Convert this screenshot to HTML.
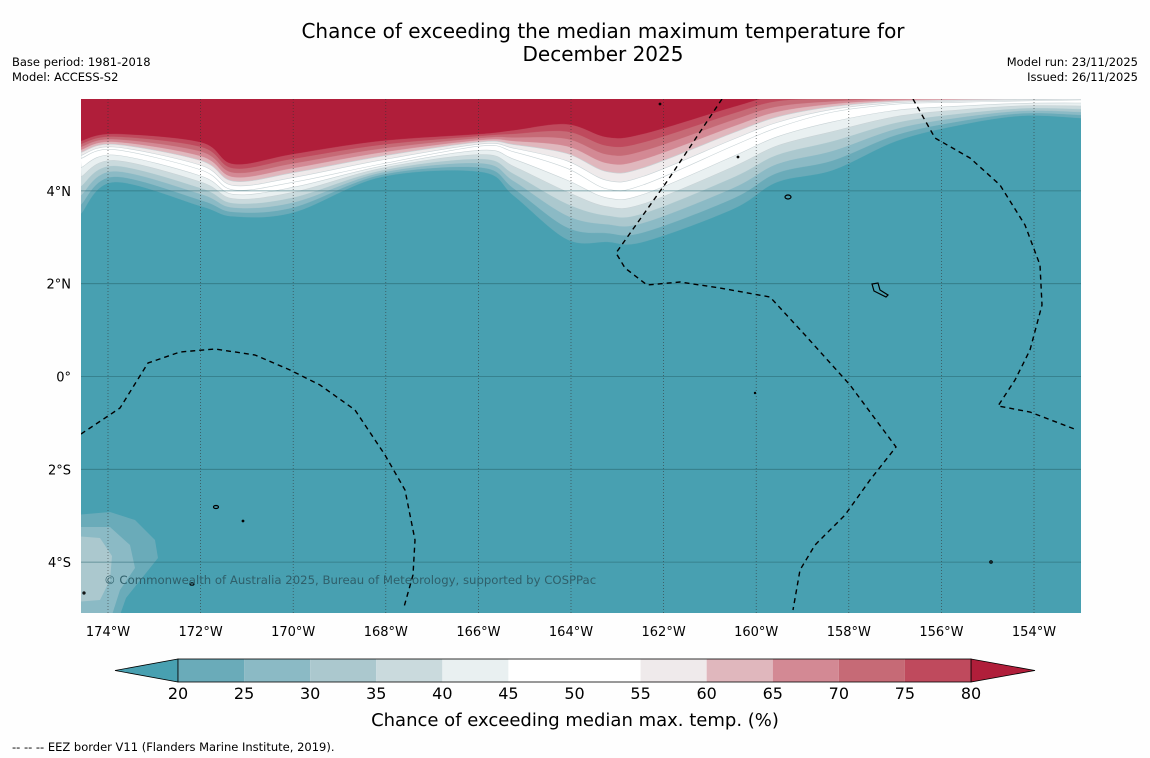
<!DOCTYPE html>
<html><head><meta charset="utf-8"><style>
body{margin:0;width:1150px;height:758px;background:#fefefe;font-family:"DejaVu Sans","Liberation Sans",sans-serif;overflow:hidden}
svg{position:absolute;left:0;top:0}
</style></head><body>
<svg id="chart" width="1150" height="758" viewBox="0 0 1150 758">
<text x="603" y="38" font-size="20" text-anchor="middle">Chance of exceeding the median maximum temperature for</text>
<text x="603" y="61" font-size="20" text-anchor="middle">December 2025</text>
<text x="12" y="66" font-size="11.5">Base period: 1981-2018</text>
<text x="12" y="81" font-size="11.5">Model: ACCESS-S2</text>
<text x="1138" y="66" font-size="11.5" text-anchor="end">Model run: 23/11/2025</text>
<text x="1138" y="81" font-size="11.5" text-anchor="end">Issued: 26/11/2025</text>
<defs><clipPath id="mapclip"><rect x="81" y="99" width="1000" height="514"/></clipPath></defs>
<g id="map" clip-path="url(#mapclip)">
<rect x="81" y="99" width="1000" height="514" fill="#48a0b1"/>
<g id="bands"></g>
<g id="blob"></g>
<g id="grid"></g>
<g id="eez" fill="none" stroke="#000" stroke-width="1.4" stroke-dasharray="5,4">
<path d="M81,434 L120,408 L148,363 L180,352 L215,349 L255,355 L290,370 L320,385 L355,410 L385,455 L405,490 L415,540 L413,575 L404,607"/>
<path d="M722,99 L668,180 L616,253 L625,268 L647,285 L680,282 L720,288 L770,297 L805,335 L850,385 L896,447 L870,480 L845,515 L815,545 L800,570 L793,610"/>
<path d="M913,99 L935,138 L970,158 L1000,185 L1025,225 L1040,265 L1042,305 L1030,350 L1015,380 L998,406 L1030,412 L1077,430"/>
</g>
<g id="islands" fill="none" stroke="#000" stroke-width="1.2">
<ellipse cx="788" cy="197" rx="3" ry="2"/>
<path d="M872,284 L878,283 L880,290 L888,295 L886,297 L874,291 Z"/>
<ellipse cx="216" cy="507" rx="2.5" ry="1.5"/>
<circle cx="243" cy="521" r="0.8"/>
<ellipse cx="192" cy="584" rx="2" ry="1.2"/>
<circle cx="84" cy="593" r="1"/>
<circle cx="991" cy="562" r="1.2"/>
<circle cx="660" cy="104" r="0.8"/>
<circle cx="738" cy="157" r="0.8"/>
<circle cx="755" cy="393" r="0.6"/>
</g>
<text x="104" y="584" font-size="11.7" fill="#2f5f6a">© Commonwealth of Australia 2025, Bureau of Meteorology, supported by COSPPac</text>
</g>
<g id="axes"></g>
<g id="colorbar"></g>
<text x="575" y="726" font-size="18" text-anchor="middle">Chance of exceeding median max. temp. (%)</text>
<text x="12" y="751" font-size="11.5">--  --  -- EEZ border V11 (Flanders Marine Institute, 2019).</text>
</svg>
<script>
const lons=[-174.58,-173.87,-171.99,-171.28,-169.98,-168.10,-165.94,-165.23,-164.09,-163.22,-162.44,-160.50,-159.55,-158.34,-156.96,-155.60,-154.24,-152.98];
const lat20=[3.51,4.19,3.67,3.45,3.54,4.30,4.41,3.89,2.96,2.90,2.90,3.61,4.19,4.45,5.08,5.42,5.62,5.57];
const lat50=[4.70,4.89,4.45,4.02,4.19,4.58,4.97,4.84,4.49,4.04,4.13,4.97,5.36,5.70,5.87,5.91,5.94,5.96];
const lat80=[5.08,5.23,5.05,4.58,4.80,5.08,5.23,5.31,5.44,5.16,5.23,5.81,6.05,6.05,6.05,6.05,6.05,6.05];
const levels=[20,25,30,35,40,45,50,55,60,65,70,75,80];
const levelColors=["#6aabb9","#8bbac5","#abc8ce","#cadadd","#e9f0f1","#ffffff","#ffffff","#efeaeb","#e0b7bd","#d38994","#c66a76","#bf4a5d","#b01e3a"];
const lonTicks=[-174,-172,-170,-168,-166,-164,-162,-160,-158,-156,-154];
const latTicks=[4,2,0,-2,-4];
const cbTicks=[20,25,30,35,40,45,50,55,60,65,70,75,80];
const cbColors=["#6aabb9","#8bbac5","#abc8ce","#cadadd","#e9f0f1","#ffffff","#ffffff","#efeaeb","#e0b7bd","#d38994","#c66a76","#bf4a5d"];

const NS='http://www.w3.org/2000/svg';
function xS(lon){return 108+(lon+174)*46.3;}
function yS(lat){return 376.5-lat*46.4;}
function cbX(v){return 178+(v-20)*(971-178)/60;}
function mk(tag,attrs,parent){const e=document.createElementNS(NS,tag);for(const k in attrs)e.setAttribute(k,attrs[k]);parent.appendChild(e);return e;}
function smooth(pts){
  let d='';
  for(let i=0;i<pts.length-1;i++){
    const p0=pts[Math.max(i-1,0)],p1=pts[i],p2=pts[i+1],p3=pts[Math.min(i+2,pts.length-1)];
    const c1=[p1[0]+(p2[0]-p0[0])/6,p1[1]+(p2[1]-p0[1])/6];
    const c2=[p2[0]-(p3[0]-p1[0])/6,p2[1]-(p3[1]-p1[1])/6];
    d+=' C'+c1[0].toFixed(1)+','+c1[1].toFixed(1)+' '+c2[0].toFixed(1)+','+c2[1].toFixed(1)+' '+p2[0].toFixed(1)+','+p2[1].toFixed(1);
  }
  return d;
}

const bands=document.getElementById('bands');
levels.forEach((lv,i)=>{
  let lat;
  if(lv<=50){const t=(lv-20)/30;lat=lat20.map((a,j)=>a+(lat50[j]-a)*t);}
  else{const t=(lv-50)/30;lat=lat50.map((a,j)=>a+(lat80[j]-a)*t);}
  const pts=lons.map((lo,j)=>[xS(lo),yS(lat[j])]);
  let d='M'+(pts[0][0]-5)+',90 L'+pts[0][0].toFixed(1)+','+pts[0][1].toFixed(1)+smooth(pts);
  d+=' L'+(pts[pts.length-1][0]+5)+',90 Z';
  const p=mk('path',{d:d,fill:levelColors[i],stroke:(lv>=40&&lv<=60)?'#c9d3d6':levelColors[i],'stroke-width':(lv>=40&&lv<=60)?0.6:0.3},bands);
  
  
});

const blob=document.getElementById('blob');
const blobShapes=[
 ["#6aabb9","M75,515 L110,512 L135,520 L155,540 L158,558 L142,578 L126,598 L120,615 L75,615 Z"],
 ["#8bbac5","M75,527 L110,527 L130,545 L135,568 L120,590 L112,615 L75,615 Z"],
 ["#abc8ce","M75,536 L100,538 L112,556 L110,580 L100,600 L75,602 Z"]
];
blobShapes.forEach(s=>{
  const p=mk('path',{d:s[1],fill:s[0]},blob);
  
  
});

const grid=document.getElementById('grid');
lonTicks.forEach(lo=>{
  const l=mk('line',{x1:xS(lo),x2:xS(lo),y1:99,y2:613,stroke:'#333','stroke-width':0.7,'stroke-dasharray':'1,2','stroke-opacity':0.8},grid);
  
  
});
latTicks.forEach(la=>{
  const l=mk('line',{x1:81,x2:1081,y1:yS(la),y2:yS(la),stroke:'#2a6670','stroke-width':0.8,'stroke-opacity':0.7},grid);
  
  
});

const axes=document.getElementById('axes');
lonTicks.forEach(lo=>{
  const t=mk('text',{x:xS(lo),y:636,'font-size':13,'text-anchor':'middle'},axes);
  t.textContent=Math.abs(lo)+'°W';
  
  
});
latTicks.forEach(la=>{
  const t=mk('text',{x:71,y:yS(la)+5,'font-size':13,'text-anchor':'end'},axes);
  t.textContent=la===0?'0°':Math.abs(la)+'°'+(la>0?'N':'S');
  
  
});

const cb=document.getElementById('colorbar');
const lt=mk('path',{d:'M115,670.5 L178,659 L178,682 Z',fill:'#48a0b1',stroke:'#000','stroke-width':0.8},cb);


const rt=mk('path',{d:'M971,659 L1035,670.5 L971,682 Z',fill:'#b01e3a',stroke:'#000','stroke-width':0.8},cb);


cbColors.forEach((c,i)=>{
  const r=mk('rect',{x:cbX(cbTicks[i]),y:659,width:cbX(cbTicks[i+1])-cbX(cbTicks[i]),height:23,fill:c},cb);
  
  
});
const ol=mk('rect',{x:178,y:659,width:793,height:23,fill:'none',stroke:'#000','stroke-width':0.8},cb);


cbTicks.forEach(v=>{
  const t=mk('text',{x:cbX(v),y:699,'font-size':16,'text-anchor':'middle'},cb);
  t.textContent=v;
  
  
});
</script>
</body></html>
